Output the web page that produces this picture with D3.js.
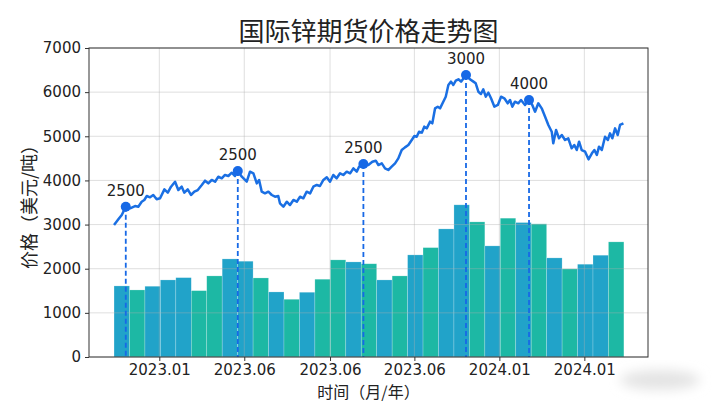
<!DOCTYPE html>
<html>
<head>
<meta charset="utf-8">
<script src="https://cdn.jsdelivr.net/npm/d3@7"></script>
<style>
  body { margin: 0; background: #fff; }
  text { font-family: "DejaVu Sans", "Noto Sans CJK SC", sans-serif; fill: #222; }
  .cjk { font-family: "Noto Sans CJK SC", "DejaVu Sans", sans-serif; }
</style>
</head>
<body>
<div id="chart"></div>
<script>
// monthly volume bars (one per month, left to right)
const barValues = [1610, 1519, 1603, 1746, 1798, 1503, 1837, 2222, 2170, 1791, 1474,
  1308, 1467, 1762, 2200, 2154, 2112, 1746, 1837, 2313, 2478, 2902, 3447, 3061,
  2517, 3145, 3046, 3016, 2245, 1995, 2102, 2306, 2608];
// bar tone group (0 = blue, 1 = teal)
const barGroup = [0, 1, 0, 0, 0, 1, 1, 0, 0, 1, 0, 1, 0, 1, 1, 0, 1, 0, 1, 0, 1,
  0, 0, 1, 0, 1, 0, 1, 0, 1, 0, 0, 1];

// price line: time in months from the first bar, price in USD/t
const lineT = [0.00, 0.28, 0.50, 0.76, 1.04, 1.36, 1.57, 1.79, 1.96, 2.12,
  2.33, 2.54, 2.76, 2.98, 3.26, 3.48, 3.69, 3.95, 4.16, 4.38,
  4.55, 4.77, 4.98, 5.20, 5.42, 5.68, 5.89, 6.10, 6.32, 6.54,
  6.75, 6.97, 7.18, 7.40, 7.62, 7.83, 8.01, 8.27, 8.48, 8.59,
  8.80, 9.02, 9.24, 9.39, 9.56, 9.77, 9.99, 10.21, 10.42, 10.63,
  10.74, 10.96, 11.18, 11.39, 11.61, 11.83, 12.04, 12.25, 12.47, 12.69,
  12.90, 13.12, 13.33, 13.55, 13.77, 13.98, 14.19, 14.41, 14.63, 14.84,
  15.06, 15.28, 15.49, 15.71, 15.86, 16.14, 16.46, 16.72, 16.94, 17.11,
  17.33, 17.54, 17.75, 17.97, 18.19, 18.40, 18.62, 18.83, 19.05, 19.27,
  19.44, 19.59, 19.74, 19.92, 20.08, 20.24, 20.45, 20.60, 20.78, 20.95,
  21.10, 21.31, 21.47, 21.64, 21.81, 21.96, 22.12, 22.29, 22.46, 22.78,
  23.04, 23.26, 23.41, 23.58, 23.75, 23.90, 24.06, 24.23, 24.40, 24.62,
  24.84, 25.05, 25.26, 25.48, 25.63, 25.78, 25.95, 26.17, 26.34, 26.60,
  26.86, 27.07, 27.25, 27.46, 27.68, 27.90, 28.11, 28.33, 28.43, 28.61,
  28.80, 28.98, 29.19, 29.40, 29.62, 29.79, 29.95, 30.10, 30.27, 30.49,
  30.71, 30.93, 31.09, 31.25, 31.39, 31.57, 31.78, 31.96, 32.10, 32.25,
  32.43, 32.60, 32.75, 32.97];
const lineV = [2990, 3119, 3217, 3405, 3368, 3420, 3405, 3518, 3557, 3647,
  3617, 3670, 3572, 3595, 3798, 3722, 3858, 3971, 3783, 3858,
  3722, 3798, 3670, 3745, 3783, 3897, 3994, 3934, 4010, 3971,
  4085, 4048, 4123, 4100, 4175, 4100, 4214, 4085, 4010, 3971,
  4198, 4161, 3934, 4010, 3745, 3707, 3745, 3670, 3632, 3647,
  3481, 3405, 3518, 3443, 3557, 3518, 3632, 3595, 3745, 3707,
  3858, 3897, 3874, 4010, 4070, 3971, 4123, 4048, 4161, 4123,
  4198, 4161, 4274, 4198, 4311, 4372, 4349, 4424, 4447, 4349,
  4387, 4274, 4236, 4311, 4387, 4500, 4689, 4749, 4802, 4916,
  5007, 4991, 5104, 5082, 5218, 5180, 5331, 5294, 5633, 5670,
  5633, 5784, 5897, 6162, 6238, 6162, 6261, 6291, 6238, 6388,
  6291, 6238, 6200, 6010, 5958, 6064, 5897, 5988, 5860, 5670,
  5709, 5897, 5860, 5747, 5822, 5670, 5784, 5747, 5822, 5709,
  5822, 5709, 5557, 5747, 5633, 5444, 5256, 5104, 4841, 5142,
  4954, 5029, 4916, 4954, 4727, 4802, 4689, 4878, 4689, 4651,
  4478, 4614, 4689, 4576, 4765, 4689, 4991, 4916, 5067, 4954,
  5180, 5029, 5256, 5294];

// annotated points on the line
const markerT = [0.76, 8.01, 16.14, 22.78, 26.86];
const markerLabels = ["2500", "2500", "2500", "3000", "4000"];

// x axis ticks
const tickT = [2.93, 8.43, 13.98, 19.44, 24.94, 30.44];
const tickLabels = ["2023.01", "2023.06", "2023.06", "2023.06", "2024.01", "2024.01"];
const yTicks = [0, 1000, 2000, 3000, 4000, 5000, 6000, 7000];

const W = 720, H = 404;
const margin = { top: 48, right: 72, bottom: 47, left: 89 };
const width = W - margin.left - margin.right,
  height = H - margin.top - margin.bottom;

const svg = d3.select("#chart").append("svg")
  .attr("width", W).attr("height", H);

// soft smudge bottom right
const defs = svg.append("defs");
defs.append("filter").attr("id", "blur")
  .attr("x", "-50%").attr("y", "-50%").attr("width", "200%").attr("height", "200%")
  .append("feGaussianBlur").attr("stdDeviation", 6);
svg.append("ellipse")
  .attr("cx", 660).attr("cy", 380).attr("rx", 40).attr("ry", 10)
  .attr("fill", "#e4e4e4").attr("filter", "url(#blur)");

const g = svg.append("g")
  .attr("transform", `translate(${margin.left},${margin.top})`);

const x = d3.scaleLinear().domain([-1.62, 34.56]).range([0, width]);
const y = d3.scaleLinear().domain([0, 7000]).range([height, 0]);
const tone = d3.scaleOrdinal().domain([0, 1]).range(["#21a3c9", "#1db8a4"]);

// Bars
g.selectAll(".bar")
  .data(barValues)
  .join("rect")
  .attr("class", "bar")
  .attr("x", (d, i) => x(i))
  .attr("y", (d) => y(d))
  .attr("width", (d, i) => x(i + 1) - x(i))
  .attr("height", (d) => y(0) - y(d))
  .attr("fill", (d, i) => tone(barGroup[i]))
  .attr("stroke", "#ffffff")
  .attr("stroke-opacity", 0.35)
  .attr("stroke-width", 0.6);

// grid (drawn over the bars)
g.append("g")
  .selectAll("line")
  .data(yTicks)
  .join("line")
  .attr("x1", 0).attr("x2", width)
  .attr("y1", (d) => y(d)).attr("y2", (d) => y(d))
  .attr("stroke", "#b0b0b0").attr("stroke-opacity", 0.45).attr("stroke-width", 0.9);
g.append("g")
  .selectAll("line")
  .data(tickT)
  .join("line")
  .attr("x1", (d) => x(d)).attr("x2", (d) => x(d))
  .attr("y1", 0).attr("y2", height)
  .attr("stroke", "#b0b0b0").attr("stroke-opacity", 0.45).attr("stroke-width", 0.9);

// dashed drop lines
const markers = markerT.map((t, i) => ({ t: t, v: lineV[lineT.indexOf(t)], label: markerLabels[i] }));
g.selectAll(".drop")
  .data(markers)
  .join("line")
  .attr("class", "drop")
  .attr("x1", (d) => x(d.t)).attr("x2", (d) => x(d.t))
  .attr("y1", (d) => y(d.v)).attr("y2", y(0))
  .attr("stroke", "#1769e6").attr("stroke-width", 1.8)
  .attr("stroke-dasharray", "5,3");

// price line
const line = d3.line()
  .x((d, i) => x(lineT[i]))
  .y((d) => y(d));
g.append("path")
  .datum(lineV)
  .attr("d", line)
  .attr("fill", "none")
  .attr("stroke", "#1a6fe3")
  .attr("stroke-width", 2.5)
  .attr("stroke-linejoin", "round");

g.selectAll(".dot")
  .data(markers)
  .join("circle")
  .attr("class", "dot")
  .attr("cx", (d) => x(d.t)).attr("cy", (d) => y(d.v))
  .attr("r", 5)
  .attr("fill", "#1769e6");

g.selectAll(".lbl")
  .data(markers)
  .join("text")
  .attr("class", "lbl")
  .attr("x", (d) => x(d.t)).attr("y", (d) => y(d.v) - 11)
  .attr("text-anchor", "middle")
  .attr("font-size", 15)
  .text((d) => d.label);

// Axes
const xAxis = g.append("g")
  .attr("transform", `translate(0,${height})`)
  .call(d3.axisBottom(x).tickValues(tickT).tickFormat((d, i) => tickLabels[i]).tickSize(4).tickPadding(3));
const yAxis = g.append("g")
  .call(d3.axisLeft(y).tickValues(yTicks).tickFormat(d3.format("d")).tickSize(4).tickPadding(4));
[xAxis, yAxis].forEach((a) => {
  a.select(".domain").remove();
  a.selectAll("line").attr("stroke", "#333");
  a.selectAll("text").attr("font-size", 15).attr("fill", "#222")
    .style("font-family", "'DejaVu Sans', sans-serif");
});

// frame
g.append("rect")
  .attr("width", width).attr("height", height)
  .attr("fill", "none").attr("stroke", "#333").attr("stroke-width", 1);

// titles
svg.append("text")
  .attr("class", "cjk")
  .attr("x", margin.left + width / 2).attr("y", 41)
  .attr("text-anchor", "middle")
  .attr("font-size", 26)
  .text("国际锌期货价格走势图");

svg.append("text")
  .attr("class", "cjk")
  .attr("x", margin.left + width / 2).attr("y", 398)
  .attr("text-anchor", "middle")
  .attr("font-size", 16)
  .text("时间（月/年）");

svg.append("text")
  .attr("class", "cjk")
  .attr("transform", `translate(36,${margin.top + height / 2})rotate(-90)`)
  .attr("text-anchor", "middle")
  .attr("font-size", 18)
  .text("价格（美元/吨）");
</script>
</body>
</html>
